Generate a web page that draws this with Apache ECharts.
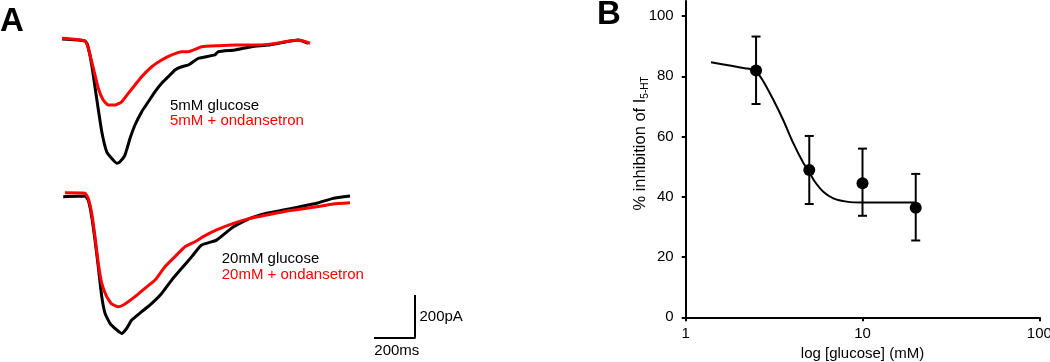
<!DOCTYPE html>
<html><head><meta charset="utf-8">
<script src="https://cdn.jsdelivr.net/npm/echarts@6/dist/echarts.min.js"></script>
<style>html,body{margin:0;padding:0;background:#fff}#c{width:1050px;height:362px}</style>
</head><body><div id="c"></div>
<script>
// ---------- Panel A : current traces (time in ms, current in pA) ----------
const trace5Glucose = [[0,0],[112,-9],[125,-28],[145,-121],[169,-276],[194,-431],[218,-524],[242,-555],[267,-578],[283,-571],[307,-540],[332,-462],[356,-400],[389,-338],[421,-292],[454,-245],[486,-206],[519,-175],[551,-144],[584,-129],[616,-121],[665,-90],[746,-74],[762,-59],[844,-51],[925,-36],[1006,-28],[1088,-14],[1153,-5],[1200,-20]];
const trace5Ondansetron = [[0,3],[112,-9],[128,-43],[153,-136],[177,-229],[201,-284],[226,-307],[259,-307],[291,-292],[323,-253],[356,-214],[389,-175],[438,-129],[486,-98],[535,-74],[584,-59],[616,-59],[681,-36],[762,-31],[844,-28],[925,-28],[1006,-25],[1088,-13],[1153,-5],[1210,-20]];
const trace20Glucose = [[6,-3],[112,0],[128,-19],[145,-96],[161,-205],[177,-329],[194,-468],[210,-546],[234,-592],[267,-623],[291,-639],[316,-615],[340,-577],[389,-538],[438,-499],[486,-453],[535,-391],[584,-336],[633,-282],[681,-228],[754,-205],[836,-143],[917,-104],[999,-80],[1080,-65],[1161,-50],[1242,-34],[1323,-11],[1405,0]];
const trace20Ondansetron = [[15,15],[112,13],[128,-11],[145,-80],[161,-189],[177,-313],[194,-406],[218,-468],[242,-502],[275,-515],[307,-502],[356,-468],[405,-429],[454,-391],[502,-329],[551,-282],[600,-236],[649,-213],[689,-189],[754,-158],[836,-127],[917,-104],[999,-88],[1080,-73],[1161,-62],[1242,-50],[1323,-37],[1405,-31]];
const scaleBarOrigin = [1522, -660]; // ms, pA
const scaleBarMs = 200;
const scaleBarPA = 200;

// ---------- Panel B : dose response ----------
const glucoseMM = [2.5, 5, 10, 20];
const inhibitionMean = [81.9, 48.9, 44.5, 36.4];
const inhibitionUpper = [93.2, 60.2, 56.0, 47.6];
const inhibitionLower = [70.8, 37.6, 33.7, 25.5];
const fitGlucose = [1.39, 2.16, 2.47, 2.75, 3.13, 3.56, 4.06, 4.63, 4.94, 5.38, 6.0, 6.84, 8.14, 10, 20];
const fitInhibition = [84.7, 82.7, 81.9, 78.3, 72.2, 65.5, 57.8, 51.2, 48.7, 45.0, 41.7, 39.5, 38.4, 38.1, 38.1];
const yTicksB = [0, 20, 40, 60, 80, 100];
const xTicksB = [1, 10, 100];

const FONT = 'Liberation Sans, Arial, Helvetica, sans-serif';
const chart = echarts.init(document.getElementById('c'), null, {renderer: 'canvas'});

const scaleBar = [
  [scaleBarOrigin[0], scaleBarOrigin[1]],
  [scaleBarOrigin[0] + scaleBarMs, scaleBarOrigin[1]],
  [scaleBarOrigin[0] + scaleBarMs, scaleBarOrigin[1] + scaleBarPA]
];

function traceSeries(data, color, idx) {
  return {type: 'line', xAxisIndex: idx, yAxisIndex: idx, data: data, showSymbol: false, symbol: 'none',
    smooth: 0.15, lineStyle: {color: color, width: 3, join: 'round'}, silent: true};
}

const hiddenX = (i) => ({type: 'value', gridIndex: i, min: 0, max: 1800, show: false});

chart.setOption({
  animation: false,
  backgroundColor: '#fff',
  textStyle: {fontFamily: FONT},
  grid: [
    {left: 62, top: 17.5, width: 369, height: 172, containLabel: false, outerBoundsMode: 'none'},
    {left: 62, top: 174.5, width: 369, height: 182.76, containLabel: false, outerBoundsMode: 'none'},
    {left: 685.7, top: 1, width: 353.6, height: 316.3, containLabel: false, outerBoundsMode: 'none'}
  ],
  xAxis: [
    hiddenX(0), hiddenX(1),
    {type: 'log', gridIndex: 2, logBase: 10, min: 1, max: 100,
      axisLine: {show: true, lineStyle: {color: '#000', width: 2}},
      axisTick: {show: true, length: 4, lineStyle: {color: '#000', width: 2}},
      minorTick: {show: false}, splitLine: {show: false},
      axisLabel: {color: '#000', fontSize: 15, margin: 9, fontFamily: FONT, customValues: xTicksB},
      name: 'log [glucose] (mM)', nameLocation: 'middle', nameGap: 29,
      nameTextStyle: {color: '#000', fontSize: 15, fontFamily: FONT}}
  ],
  yAxis: [
    {type: 'value', gridIndex: 0, min: -700, max: 100, show: false},
    {type: 'value', gridIndex: 1, min: -750, max: 100, show: false},
    {type: 'value', gridIndex: 2, min: 0, max: 105, interval: 20,
      axisLine: {show: true, lineStyle: {color: '#000', width: 2}},
      axisTick: {show: true, length: 4, lineStyle: {color: '#000', width: 2}, customValues: yTicksB},
      splitLine: {show: false},
      axisLabel: {color: '#000', fontSize: 15, margin: 12, fontFamily: FONT, customValues: yTicksB}}
  ],
  series: [
    traceSeries(trace5Glucose, '#000000', 0),
    traceSeries(trace5Ondansetron, '#ff0000', 0),
    traceSeries(trace20Glucose, '#000000', 1),
    traceSeries(trace20Ondansetron, '#ff0000', 1),
    {type: 'line', xAxisIndex: 1, yAxisIndex: 1, data: scaleBar, showSymbol: false, symbol: 'none',
      lineStyle: {color: '#000', width: 2}, silent: true},
    {type: 'line', xAxisIndex: 2, yAxisIndex: 2, data: fitGlucose.map((g, i) => [g, fitInhibition[i]]),
      smooth: 0.3, showSymbol: false, symbol: 'none', lineStyle: {color: '#000', width: 2}, z: 2},
    {type: 'custom', xAxisIndex: 2, yAxisIndex: 2, z: 3,
      data: glucoseMM.map((g, i) => [g, inhibitionLower[i], inhibitionUpper[i]]),
      renderItem: function (params, api) {
        const lo = api.coord([api.value(0), api.value(1)]);
        const hi = api.coord([api.value(0), api.value(2)]);
        const w = 4.5;
        const st = {stroke: '#000', lineWidth: 2};
        return {type: 'group', children: [
          {type: 'line', shape: {x1: lo[0], y1: lo[1], x2: hi[0], y2: hi[1]}, style: st},
          {type: 'line', shape: {x1: lo[0] - w, y1: lo[1], x2: lo[0] + w, y2: lo[1]}, style: st},
          {type: 'line', shape: {x1: hi[0] - w, y1: hi[1], x2: hi[0] + w, y2: hi[1]}, style: st}
        ]};
      }},
    {type: 'scatter', xAxisIndex: 2, yAxisIndex: 2, z: 4, symbolSize: 12,
      data: glucoseMM.map((g, i) => [g, inhibitionMean[i]]), itemStyle: {color: '#000', opacity: 1}}
  ],
  graphic: [
    {type: 'text', x: 0, y: 22, style: {text: 'A', font: 'bold 33px ' + FONT, fill: '#000', verticalAlign: 'middle'}},
    {type: 'text', x: 597, y: 15, style: {text: 'B', font: 'bold 33px ' + FONT, fill: '#000', verticalAlign: 'middle'}},
    {type: 'text', x: 170, y: 105.5, style: {text: '5mM glucose', font: '15px ' + FONT, fill: '#000', verticalAlign: 'middle'}},
    {type: 'text', x: 170, y: 121, style: {text: '5mM + ondansetron', font: '15px ' + FONT, fill: '#ff0000', verticalAlign: 'middle'}},
    {type: 'text', x: 221.7, y: 258.7, style: {text: '20mM glucose', font: '15px ' + FONT, fill: '#000', verticalAlign: 'middle'}},
    {type: 'text', x: 221.7, y: 275.3, style: {text: '20mM + ondansetron', font: '15px ' + FONT, fill: '#ff0000', verticalAlign: 'middle'}},
    {type: 'text', x: 419.5, y: 317, style: {text: '200pA', font: '15px ' + FONT, fill: '#000', verticalAlign: 'middle'}},
    {type: 'text', x: 374.3, y: 350.5, style: {text: '200ms', font: '15px ' + FONT, fill: '#000', verticalAlign: 'middle'}},
    {type: 'text', x: 640, y: 143.5, rotation: Math.PI / 2,
      style: {text: '{a|% inhibition of I}{s|5-HT}', align: 'center', verticalAlign: 'middle', fill: '#000',
        rich: {a: {fontSize: 16.5, fontFamily: FONT, fill: '#000', lineHeight: 20},
               s: {fontSize: 10, fontFamily: FONT, fill: '#000', verticalAlign: 'bottom', lineHeight: 20, padding: [7, 0, 0, 0]}}}}
  ]
});
</script></body></html>
